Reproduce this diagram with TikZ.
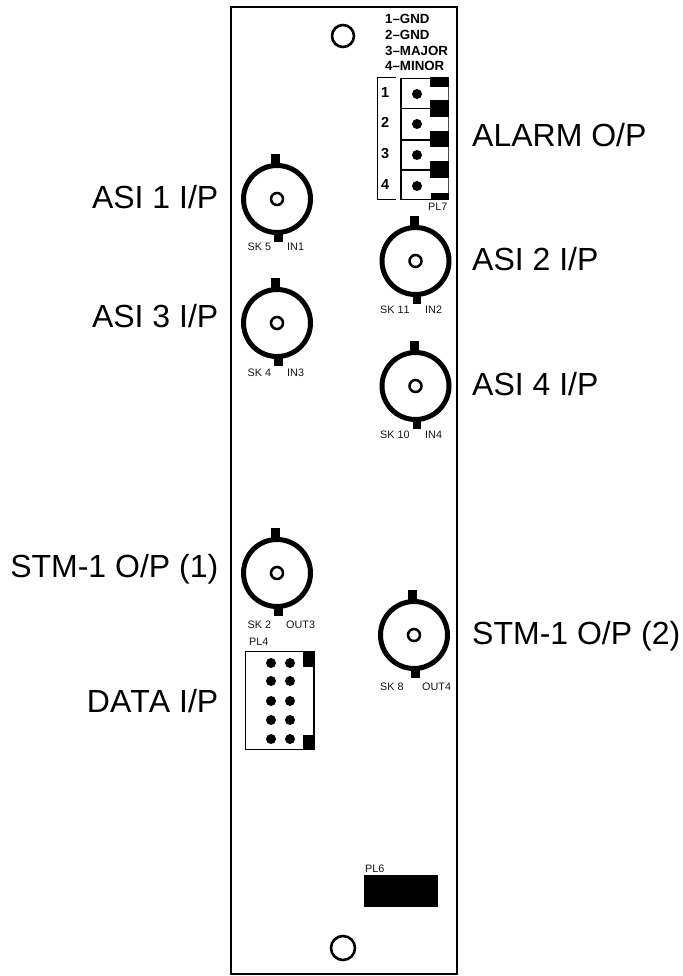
\documentclass[tikz,border=0pt]{standalone}
\usepackage{fontspec}
\setmainfont[Kerning=Off]{Liberation Sans}
\tikzset{
  big/.style={inner sep=0pt,font=\fontsize{32}{36}\selectfont},
  small/.style={inner sep=0pt,text=black!92,font=\fontsize{10.8}{12}\selectfont},
  boldt/.style={inner sep=0pt,font=\bfseries\fontsize{13.3}{15}\selectfont},
  digit/.style={inner sep=0pt,font=\bfseries\fontsize{14.5}{16}\selectfont},
  pin/.style={fill=black,draw=none},
}
\newcommand{\bncconn}[3]{% cx, cy, name
  \fill (#1-6,#2-45) rectangle (#1+3,#2-33);
  \fill (#1-3,#2+33) rectangle (#1+5.5,#2+43);
  \draw[line width=5pt] (#1,#2) circle[radius=33.5];
  \draw[line width=2.5pt] (#1,#2) circle[radius=6];
  \coordinate (#3) at (#1,#2);
}
\newcommand{\smalllabel}[4]{\node[small,anchor=base west] (#4) at (#1,#2) {#3};}
\begin{document}
\begin{tikzpicture}[x=1pt,y=-1pt]
\useasboundingbox (0,0) rectangle (682,976);
% panel
\draw[line width=2pt] (231,7) rectangle (457,974);
\draw[line width=2.6pt] (343,36) circle[radius=11];
\draw[line width=2.6pt] (343,948) circle[radius=12];
% connectors
\bncconn{277}{199}{sk5}
\bncconn{277}{323}{sk4}
\bncconn{277}{573}{sk2}
\bncconn{415.5}{261}{sk11}
\bncconn{415.5}{386}{sk10}
\bncconn{414}{635}{sk8}
% small labels
\smalllabel{247.5}{251}{SK 5}{l1}
\smalllabel{287}{251}{IN1}{l2}
\smalllabel{247.5}{376}{SK 4}{l3}
\smalllabel{287}{376}{IN3}{l4}
\smalllabel{247.5}{628}{SK 2}{l5}
\smalllabel{286}{628}{OUT3}{l6}
\smalllabel{380}{313}{SK 11}{l7}
\smalllabel{425}{313}{IN2}{l8}
\smalllabel{380}{438}{SK 10}{l9}
\smalllabel{425}{438}{IN4}{l10}
\smalllabel{380}{690}{SK 8}{l11}
\smalllabel{422}{690}{OUT4}{l12}
\smalllabel{249}{645}{PL4}{l13}
\smalllabel{428}{211}{PL7}{l14}
\smalllabel{365}{872}{PL6}{l15}
% PL6
\fill (364,875) rectangle (438,907);
% PL4
\draw[line width=1.6pt] (245.5,651.5) rectangle (314,749.5);
\fill (303,651) rectangle (314.5,667);
\fill (303,735) rectangle (314.5,750);
\foreach \yy in {663,681,701,720,739}{
  \fill[pin] (271,\yy) circle[radius=5];
  \fill[pin] (290,\yy) circle[radius=5];
}
% PL7
\draw[line width=0.6pt] (396,77.5) -- (377.5,77.5) -- (377.5,199) -- (396,199);
\draw[line width=0.6pt,black!70] (448,78) -- (448,200);
\draw[line width=1.8pt] (448,78.5) -- (401,78.5) -- (401,199.5) -- (448,199.5);
\foreach \yy in {108.5,140,170}{\draw[line width=1.6pt] (401,\yy) -- (431,\yy);}
\fill (430,77.5) rectangle (448.5,87);
\fill (430,100) rectangle (448.5,117);
\fill (430,131) rectangle (448.5,147);
\fill (430,161) rectangle (448.5,178);
\fill (431,193) rectangle (448.5,200);
\foreach \yy in {94,124,155,186}{\fill[pin] (417,\yy) circle[radius=5];}
\node[digit,anchor=base west] (d1) at (381,98) {1};
\node[digit,anchor=base west] (d2) at (381,128) {2};
\node[digit,anchor=base west] (d3) at (381,159) {3};
\node[digit,anchor=base west] (d4) at (381,190) {4};
\node[boldt,anchor=base west] (a1) at (385,24) {1–GND};
\node[boldt,anchor=base west] (a2) at (385,40) {2–GND};
\node[boldt,anchor=base west] (a3) at (385,56) {3–MAJOR};
\node[boldt,anchor=base west] (a4) at (385,71) {4–MINOR};
% big labels
\node[big,anchor=base east] (b1) at (218.5,208.5) {ASI 1 I/P};
\node[big,anchor=base east] (b2) at (218.5,327.5) {ASI 3 I/P};
\node[big,anchor=base east] (b3) at (218.5,577.5) {STM-1 O/P (1)};
\node[big,anchor=base east] (b4) at (218.5,712.5) {DA\kern-1pt T\kern-1pt A I/P};
\node[big,anchor=base west] (b5) at (472,146.5) {ALARM O/P};
\node[big,anchor=base west] (b6) at (472,270.5) {ASI 2 I/P};
\node[big,anchor=base west] (b7) at (472,395.5) {ASI 4 I/P};
\node[big,anchor=base west] (b8) at (472,644.5) {STM-1 O/P (2)};
\end{tikzpicture}
\end{document}
